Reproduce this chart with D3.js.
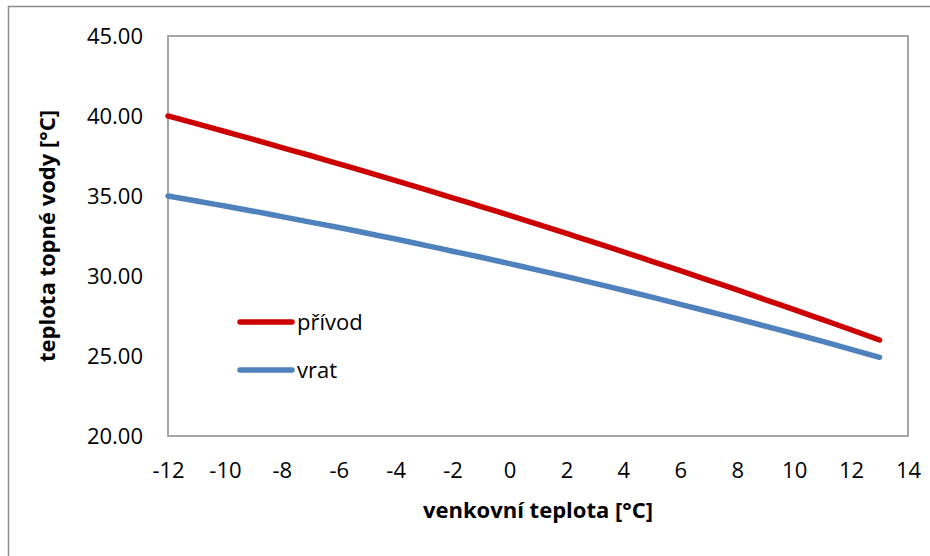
<!DOCTYPE html>
<html>
<head>
<meta charset="utf-8">
<script src="https://cdn.jsdelivr.net/npm/d3@7"></script>
<style>
  body { margin: 0; background: #fff; }
  text { font-family: "Open Sans", sans-serif; }
</style>
</head>
<body>
<div id="wrapper"></div>
<script>
// data (outside temp -> water temp)
const outsideTemp = [-12, -11, -10, -9, -8, -7, -6, -5, -4, -3, -2, -1, 0,
  1, 2, 3, 4, 5, 6, 7, 8, 9, 10, 11, 12, 13]
const supplyTemp = [40.00, 39.52, 39.03, 38.54, 38.03, 37.53, 37.01, 36.49, 35.96, 35.43, 34.89, 34.34, 33.79,
  33.23, 32.66, 32.08, 31.51, 30.92, 30.33, 29.73, 29.13, 28.51, 27.90, 27.27, 26.64, 26.00]
const returnTemp = [35.00, 34.69, 34.37, 34.05, 33.71, 33.37, 33.03, 32.67, 32.31, 31.93, 31.55, 31.17, 30.77,
  30.37, 29.96, 29.54, 29.11, 28.68, 28.23, 27.78, 27.33, 26.86, 26.39, 25.91, 25.42, 24.92]
const xTicks = [-12, -10, -8, -6, -4, -2, 0, 2, 4, 6, 8, 10, 12, 14]
const yTicks = [20, 25, 30, 35, 40, 45]
const seriesNames = ["přívod", "vrat"]
const seriesColors = ["#cc0000", "#4f81bd"]

function drawChart() {
  const series = [supplyTemp, returnTemp].map((vals, i) => ({
    name: seriesNames[i],
    color: seriesColors[i],
    points: outsideTemp.map((t, j) => ({ x: t, y: vals[j] })),
  }))

  // 2. dimensions
  let dimensions = {
    width: 930,
    height: 556,
    margin: { top: 36, right: 22, bottom: 120, left: 168 },
  }
  dimensions.boundedWidth = dimensions.width - dimensions.margin.left - dimensions.margin.right
  dimensions.boundedHeight = dimensions.height - dimensions.margin.top - dimensions.margin.bottom

  // 3. canvas
  const wrapper = d3.select("#wrapper")
    .append("svg")
      .attr("width", dimensions.width)
      .attr("height", dimensions.height)

  // chart area border (runs off the picture right and bottom)
  wrapper.append("rect")
    .attr("x", 8.5)
    .attr("y", 6.5)
    .attr("width", 1000)
    .attr("height", 1000)
    .attr("fill", "none")
    .attr("stroke", "#8c8c8c")
    .attr("stroke-width", 1.5)

  const bounds = wrapper.append("g")
    .attr("transform", `translate(${dimensions.margin.left},${dimensions.margin.top})`)

  // 4. scales
  const xScale = d3.scaleLinear()
    .domain([-12, 14])
    .range([0, dimensions.boundedWidth])

  const yScale = d3.scaleLinear()
    .domain([20, 45])
    .range([dimensions.boundedHeight, 0])

  // plot area frame
  bounds.append("rect")
    .attr("width", dimensions.boundedWidth)
    .attr("height", dimensions.boundedHeight)
    .attr("fill", "none")
    .attr("stroke", "#898989")
    .attr("stroke-width", 1.5)

  // 5. data
  const lineGenerator = d3.line()
    .x(d => xScale(d.x))
    .y(d => yScale(d.y))
    .curve(d3.curveMonotoneX)

  bounds.selectAll(".series")
    .data(series)
    .enter().append("path")
      .attr("class", "series")
      .attr("d", d => lineGenerator(d.points))
      .attr("fill", "none")
      .attr("stroke", d => d.color)
      .attr("stroke-width", 5.5)
      .attr("stroke-linecap", "round")
      .attr("stroke-linejoin", "round")

  // 6. axes
  const xAxis = bounds.append("g")
    .attr("transform", `translate(0,${dimensions.boundedHeight})`)
    .call(d3.axisBottom(xScale)
      .tickValues(xTicks)
      .tickSize(0)
      .tickPadding(26)
      .tickFormat(d => String(d)))
  xAxis.select(".domain").remove()
  xAxis.selectAll("text")
    .attr("fill", "#000")
    .style("font-size", "22px")
    .style("font-family", "'Open Sans', sans-serif")

  const yAxis = bounds.append("g")
    .call(d3.axisLeft(yScale)
      .tickValues(yTicks)
      .tickSize(0)
      .tickPadding(25)
      .tickFormat(d3.format(".2f")))
  yAxis.select(".domain").remove()
  yAxis.selectAll("text")
    .attr("fill", "#000")
    .style("font-size", "22px")
    .style("font-family", "'Open Sans', sans-serif")

  // axis titles
  bounds.append("text")
    .attr("x", dimensions.boundedWidth / 2)
    .attr("y", dimensions.boundedHeight + 82)
    .attr("text-anchor", "middle")
    .style("font-size", "22px")
    .style("font-weight", "bold")
    .text("venkovní teplota [°C]")

  bounds.append("text")
    .attr("transform", `translate(${-113},${dimensions.boundedHeight / 2}) rotate(-90)`)
    .attr("text-anchor", "middle")
    .style("font-size", "22px")
    .style("font-weight", "bold")
    .text("teplota topné vody [°C]")

  // legend
  const legend = bounds.append("g")
    .attr("transform", "translate(72,286)")

  const legendItems = legend.selectAll("g")
    .data(series)
    .enter().append("g")
      .attr("transform", (d, i) => `translate(0,${i * 48})`)

  legendItems.append("line")
    .attr("x1", 0)
    .attr("x2", 52)
    .attr("stroke", d => d.color)
    .attr("stroke-width", 5.5)
    .attr("stroke-linecap", "round")

  legendItems.append("text")
    .attr("x", 57)
    .attr("y", 8)
    .style("font-size", "22px")
    .text(d => d.name)
}

drawChart()
</script>
</body>
</html>
